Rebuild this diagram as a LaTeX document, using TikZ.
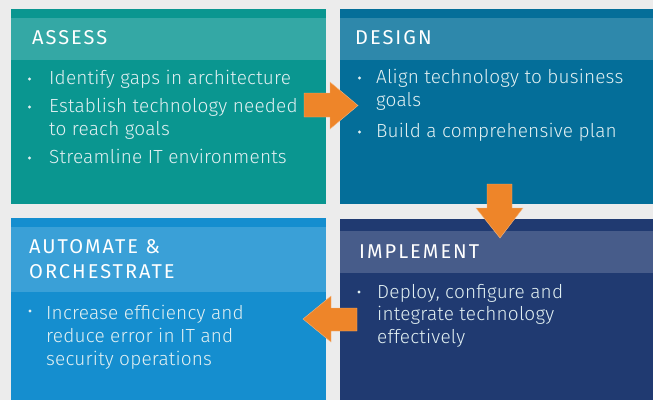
\documentclass[tikz,border=0pt]{standalone}
\usepackage{fontspec}
\setmainfont{Fira Sans}
\newfontfamily\lightfont[LetterSpace=1]{Fira Sans Light}
\newfontfamily\titlefont[LetterSpace=10]{Fira Sans}
\definecolor{bg}{HTML}{ECECEC}
\definecolor{tealbox}{HTML}{0A9690}
\definecolor{tealhead}{HTML}{34A8A5}
\definecolor{bluebox}{HTML}{046E99}
\definecolor{bluehead}{HTML}{2E88AB}
\definecolor{skybox}{HTML}{158ECF}
\definecolor{skyhead}{HTML}{3AA0D7}
\definecolor{navybox}{HTML}{203A71}
\definecolor{navyhead}{HTML}{475C8A}
\definecolor{arroworange}{HTML}{EE8529}
\definecolor{bodytext}{HTML}{E2F0F2}
\tikzset{
  ttl/.style={anchor=base west, inner sep=0pt, text=white, font=\titlefont\fontsize{20}{24}\selectfont},
  txt/.style={anchor=base west, inner sep=0pt, text=bodytext, font=\lightfont\fontsize{19}{23}\selectfont},
  dotmark/.style={fill=bodytext, draw=none},
  blockarrow/.style={fill=arroworange, draw=arroworange!60!white, line width=0.4pt}
}
\begin{document}
\begin{tikzpicture}[x=1pt,y=-1pt]
\fill[bg] (0,0) rectangle (653,400);
\useasboundingbox (0,0) rectangle (653,400);
% boxes
\fill[tealbox] (11,9) rectangle (326,204);
\fill[tealhead] (11,18) rectangle (326,60);
\fill[bluebox] (340,9) rectangle (653,204);
\fill[bluehead] (340,18) rectangle (653,60);
\fill[skybox] (11,218) rectangle (326,400);
\fill[skyhead] (11,227) rectangle (326,292);
\fill[navybox] (340,219) rectangle (653,400);
\fill[navyhead] (340,231) rectangle (653,273);
% titles
\node[ttl] (t1) at (32,44) {ASSESS};
\node[ttl] (t2) at (355,44) {DESIGN};
\node[ttl] (t3a) at (29,253) {AUTOMATE \&};
\node[ttl] (t3b) at (29,278) {ORCHESTRATE};
\node[ttl] (t4) at (359,258) {IMPLEMENT};
% box 1 text
\fill[dotmark] (29.5,79) circle (1.7);
\node[txt] (a1) at (49,84) {Identify gaps in architecture};
\fill[dotmark] (29.5,107) circle (1.7);
\node[txt] (a2) at (49,112) {Establish technology needed};
\node[txt] (a3) at (49,135) {to reach goals};
\fill[dotmark] (29.5,158) circle (1.7);
\node[txt] (a4) at (49,163) {Streamline IT environments};
% box 2 text
\fill[dotmark] (359.5,78) circle (1.7);
\node[txt] (b1) at (376,83) {Align technology to business};
\node[txt] (b2) at (376,106) {goals};
\fill[dotmark] (359.5,132) circle (1.7);
\node[txt] (b3) at (376,137) {Build a comprehensive plan};
% box 3 text
\fill[dotmark] (30,311) circle (1.7);
\node[txt] (c1) at (46,319) {Increase efficiency and};
\node[txt] (c2) at (46,342) {reduce error in IT and};
\node[txt] (c3) at (46,365) {security operations};
% box 4 text
\fill[dotmark] (359,292) circle (1.7);
\node[txt] (d1) at (377,298) {Deploy, configure and};
\node[txt] (d2) at (377,320) {integrate technology};
\node[txt] (d3) at (377,343) {effectively};
% arrows
\filldraw[blockarrow] (304,93) -- (330,93) -- (330,82) -- (358,105.5) -- (330,129) -- (330,117) -- (304,117) -- cycle;
\filldraw[blockarrow] (487,184) -- (512,184) -- (512,208) -- (523,208) -- (500,238) -- (476,208) -- (487,208) -- cycle;
\filldraw[blockarrow] (357,308) -- (331,308) -- (331,296) -- (303,319) -- (331,342) -- (331,331) -- (357,331) -- cycle;
\end{tikzpicture}
\end{document}
